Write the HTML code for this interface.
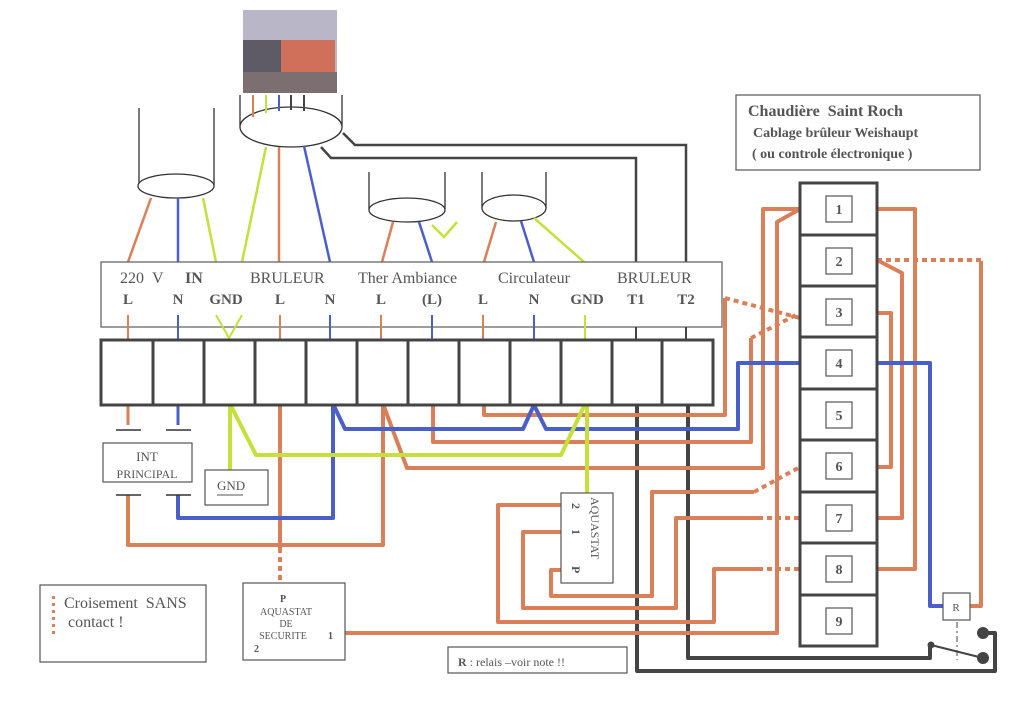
<!DOCTYPE html>
<html><head><meta charset="utf-8"><style>
html,body{margin:0;padding:0;background:#fff;}
svg{display:block;}
text{font-family:"Liberation Serif",serif;fill:#555;}
</style></head><body>
<svg width="1024" height="702" viewBox="0 0 1024 702" xmlns="http://www.w3.org/2000/svg">
<!-- photo connector -->
<rect x="243" y="10" width="94" height="83" fill="#b9b6c8"/>
<rect x="243" y="40" width="38" height="32" fill="#5e5a66"/>
<rect x="281" y="40" width="54" height="32" fill="#d0705a"/>
<rect x="243" y="72" width="94" height="21" fill="#7b6f72"/>
<!-- cables -->
<g fill="none" stroke="#333" stroke-width="1.3">
<line x1="139" y1="108" x2="139" y2="186"/><line x1="214" y1="108" x2="214" y2="186"/>
<ellipse cx="176" cy="186" rx="38" ry="12" fill="#fff"/>
<line x1="240" y1="95" x2="240" y2="127"/><line x1="342" y1="95" x2="342" y2="127"/>
<ellipse cx="291" cy="127" rx="51" ry="20" fill="#fff"/>
<line x1="369" y1="172" x2="369" y2="210"/><line x1="445" y1="172" x2="445" y2="210"/>
<ellipse cx="407" cy="210" rx="38" ry="12" fill="#fff"/>
<line x1="482" y1="172" x2="482" y2="208"/><line x1="546" y1="172" x2="546" y2="208"/>
<ellipse cx="514" cy="208" rx="32" ry="13" fill="#fff"/>
</g>
<!-- burner inner wires -->
<g stroke-width="2">
<line x1="253" y1="95" x2="253" y2="117" stroke="#d9805a"/>
<line x1="266" y1="95" x2="266" y2="113" stroke="#c5e03a"/>
<line x1="279" y1="95" x2="279" y2="111" stroke="#4a5fc8"/>
<line x1="291" y1="95" x2="291" y2="110" stroke="#444"/>
<line x1="304" y1="95" x2="304" y2="111" stroke="#444"/>
</g>
<!-- top wires -->
<g fill="none" stroke-width="2.5">
<path d="M151 198 L128 262" stroke="#d9805a"/>
<path d="M178 198 L178 262" stroke="#4a5fc8"/>
<path d="M203 198 L216 262" stroke="#c5e03a"/>
<path d="M266 147 L242 262" stroke="#c5e03a"/>
<path d="M279 147 L279 262" stroke="#d9805a"/>
<path d="M304 146 L330 262" stroke="#4a5fc8"/>
<path d="M393 222 L382 262" stroke="#d9805a"/>
<path d="M419 222 L432 262" stroke="#4a5fc8"/>
<path d="M432 225 L444 237 L457 222" stroke="#c5e03a"/>
<path d="M496 222 L484 262" stroke="#d9805a"/>
<path d="M521 221 L534 262" stroke="#4a5fc8"/>
<path d="M534 218 L584 262" stroke="#c5e03a"/>
<path d="M343 133 L355 145 L686 145 L686 262" stroke="#444"/>
<path d="M321 147 L331 158 L636 158 L636 262" stroke="#444"/>
</g>
<!-- label panel -->
<rect x="101" y="262" width="621" height="65" fill="#fff" stroke="#666" stroke-width="1.3"/>
<g font-size="16">
<text x="120" y="283">220&#160;&#160;V</text>
<text x="185" y="283" font-weight="bold">IN</text>
<text x="250" y="283">BRULEUR</text>
<text x="358" y="283">Ther Ambiance</text>
<text x="498" y="283">Circulateur</text>
<text x="617" y="283">BRULEUR</text>
</g>
<g font-size="15" font-weight="bold" text-anchor="middle">
<text x="128" y="304">L</text><text x="178" y="304">N</text><text x="226" y="304">GND</text>
<text x="280" y="304">L</text><text x="330" y="304">N</text><text x="381" y="304">L</text>
<text x="432" y="304">(L)</text><text x="483" y="304">L</text><text x="534" y="304">N</text>
<text x="587" y="304">GND</text><text x="636" y="304">T1</text><text x="686" y="304">T2</text>
</g>
<g stroke-width="2" fill="none">
<line x1="128" y1="315" x2="128" y2="340" stroke="#d9805a"/>
<line x1="178" y1="315" x2="178" y2="340" stroke="#4a5fc8"/>
<path d="M216 315 L229 338 L242 315" stroke="#c5e03a"/>
<line x1="280" y1="315" x2="280" y2="340" stroke="#d9805a"/>
<line x1="330" y1="315" x2="330" y2="340" stroke="#4a5fc8"/>
<line x1="381" y1="315" x2="381" y2="340" stroke="#d9805a"/>
<line x1="432" y1="315" x2="432" y2="340" stroke="#4a5fc8"/>
<line x1="483" y1="315" x2="483" y2="340" stroke="#d9805a"/>
<line x1="534" y1="315" x2="534" y2="340" stroke="#4a5fc8"/>
<line x1="585" y1="315" x2="585" y2="340" stroke="#c5e03a"/>
<line x1="636" y1="327" x2="636" y2="340" stroke="#444"/>
<line x1="686" y1="327" x2="686" y2="340" stroke="#444"/>
</g>
<!-- bottom wires -->
<g fill="none" stroke-width="4" stroke-linejoin="round">
<!-- dark to relay -->
<path d="M637 404 L637 671 L995 671 L995 633 L983 633" stroke="#444"/>
<path d="M688 404 L688 658 L930 658 L930 645" stroke="#444"/>
<!-- orange -->
<path d="M128 404 L128 425" stroke="#d9805a" stroke-width="3"/>
<path d="M128 495 L128 545 L383 545 L383 404" stroke="#d9805a"/>
<path d="M383 404 L407 468 L763 468 L763 209 L800 209" stroke="#d9805a"/>
<path d="M433 404 L433 442 L751 442 L751 338" stroke="#d9805a"/>
<path d="M484 404 L484 415 L725 415 L725 298" stroke="#d9805a"/>
<path d="M345 633 L777 633 L777 222 L800 209" stroke="#d9805a"/>
<path d="M280 404 L280 548" stroke="#d9805a"/>
<path d="M754 492 L652 492 L652 596 L551 596 L551 570 L562 570" stroke="#d9805a"/>
<path d="M758 518 L676 518 L676 608 L523 608 L523 532 L562 532" stroke="#d9805a"/>
<path d="M758 569 L714 569 L714 622 L498 622 L498 505 L562 505" stroke="#d9805a"/>
<path d="M877 209 L915 209 L915 569 L877 569" stroke="#d9805a"/>
<path d="M877 260 L902 273 L902 518 L877 518" stroke="#d9805a"/>
<path d="M877 313 L891 313 L891 467 L877 467" stroke="#d9805a"/>
<path d="M981 261 L981 606 L970 606" stroke="#d9805a"/>
<!-- dotted -->
<g stroke-dasharray="5 4" stroke="#d9805a">
<path d="M280 548 L280 583"/>
<path d="M725 298 L800 318"/>
<path d="M751 338 L800 313"/>
<path d="M754 492 L800 467"/>
<path d="M758 518 L800 518"/>
<path d="M758 569 L800 569"/>
<path d="M877 260 L981 260"/>
</g>
<!-- blue -->
<path d="M178 404 L178 425" stroke="#4a5fc8" stroke-width="3"/>
<path d="M178 495 L178 518 L333 518 L333 404 L345 429 L523 429 L534 405 L546 429 L738 429 L738 363 L800 363" stroke="#4a5fc8"/>
<path d="M877 363 L930 363 L930 606 L943 606" stroke="#4a5fc8"/>
<!-- green -->
<path d="M230 404 L230 470" stroke="#c5e03a"/>
<path d="M230 404 L256 455 L561 455 L585 404 L587 404 L587 493" stroke="#c5e03a"/>
</g>
<!-- INT tees -->
<g stroke="#333" stroke-width="1.5">
<line x1="116" y1="430" x2="141" y2="430"/><line x1="166" y1="430" x2="191" y2="430"/>
<line x1="116" y1="495" x2="141" y2="495"/><line x1="166" y1="495" x2="191" y2="495"/>
</g>
<!-- terminal block -->
<g fill="#fff" stroke="#444" stroke-width="3">
<rect x="101" y="340" width="612" height="65"/>
</g>
<g stroke="#444" stroke-width="3">
<line x1="153" y1="340" x2="153" y2="405"/><line x1="204" y1="340" x2="204" y2="405"/>
<line x1="255" y1="340" x2="255" y2="405"/><line x1="306" y1="340" x2="306" y2="405"/>
<line x1="357" y1="340" x2="357" y2="405"/><line x1="408" y1="340" x2="408" y2="405"/>
<line x1="459" y1="340" x2="459" y2="405"/><line x1="510" y1="340" x2="510" y2="405"/>
<line x1="561" y1="340" x2="561" y2="405"/><line x1="612" y1="340" x2="612" y2="405"/>
<line x1="662" y1="340" x2="662" y2="405"/>
</g>
<!-- boxes -->
<g fill="#fff" stroke="#555" stroke-width="1.2">
<rect x="103" y="443" width="89" height="39"/>
<rect x="205" y="470" width="63" height="35"/>
<rect x="40" y="585" width="166" height="77"/>
<rect x="243" y="583" width="102" height="77"/>
<rect x="448" y="647" width="179" height="26"/>
<rect x="561" y="493" width="52" height="90"/>
<rect x="736" y="95" width="244" height="75"/>
<rect x="943" y="593" width="27" height="27"/>
</g>
<text x="147" y="461" font-size="13" text-anchor="middle">INT</text>
<text x="147" y="478" font-size="12" text-anchor="middle">PRINCIPAL</text>
<text x="217" y="490" font-size="13">GND</text>
<line x1="217" y1="495" x2="243" y2="495" stroke="#555" stroke-width="1"/>
<g fill="#d9805a"><rect x="52" y="596" width="3" height="3"/><rect x="52" y="603" width="3" height="3"/><rect x="52" y="610" width="3" height="3"/><rect x="52" y="617" width="3" height="3"/><rect x="52" y="624" width="3" height="3"/><rect x="52" y="631" width="3" height="3"/></g>
<text x="64" y="608" font-size="16">Croisement&#160; SANS</text>
<text x="68" y="627" font-size="16">contact !</text>
<text x="283" y="602" font-size="10" font-weight="bold" text-anchor="middle">P</text>
<text x="286" y="615" font-size="10" text-anchor="middle">AQUASTAT</text>
<text x="286" y="627" font-size="10" text-anchor="middle">DE</text>
<text x="283" y="639" font-size="10" text-anchor="middle">SECURITE</text>
<text x="328" y="639" font-size="10" font-weight="bold">1</text>
<text x="254" y="652" font-size="10" font-weight="bold">2</text>
<text x="458" y="666" font-size="12"><tspan font-weight="bold">R</tspan> : relais –voir note !!</text>
<text x="956" y="611" font-size="11" text-anchor="middle">R</text>
<g transform="translate(591,497) rotate(90)">
<text x="0" y="0" font-size="12">AQUASTAT</text>
</g>
<g font-size="12" font-weight="bold">
<text transform="translate(572,503) rotate(90)">2</text>
<text transform="translate(572,529) rotate(90)">1</text>
<text transform="translate(572,566) rotate(90)">P</text>
</g>
<text x="748" y="116" font-size="16" font-weight="bold">Chaudière&#160; Saint Roch</text>
<text x="753" y="137" font-size="14" font-weight="bold">Cablage brûleur Weishaupt</text>
<text x="752" y="158" font-size="14" font-weight="bold">( ou controle électronique )</text>
<!-- right strip -->
<rect x="800" y="183" width="77" height="463" fill="none" stroke="#444" stroke-width="3"/>
<g stroke="#444" stroke-width="3">
<line x1="800" y1="235" x2="877" y2="235"/><line x1="800" y1="286" x2="877" y2="286"/>
<line x1="800" y1="337" x2="877" y2="337"/><line x1="800" y1="389" x2="877" y2="389"/>
<line x1="800" y1="440" x2="877" y2="440"/><line x1="800" y1="492" x2="877" y2="492"/>
<line x1="800" y1="543" x2="877" y2="543"/><line x1="800" y1="595" x2="877" y2="595"/>
</g>
<g fill="#fff" stroke="#555" stroke-width="1.2">
<rect x="826" y="196" width="26" height="26"/><rect x="826" y="248" width="26" height="26"/>
<rect x="826" y="299" width="26" height="26"/><rect x="826" y="350" width="26" height="26"/>
<rect x="826" y="402" width="26" height="26"/><rect x="826" y="453" width="26" height="26"/>
<rect x="826" y="505" width="26" height="26"/><rect x="826" y="556" width="26" height="26"/>
<rect x="826" y="608" width="26" height="26"/>
</g>
<g font-size="14" font-weight="bold" text-anchor="middle">
<text x="839" y="214">1</text><text x="839" y="266">2</text><text x="839" y="317">3</text>
<text x="839" y="368">4</text><text x="839" y="420">5</text><text x="839" y="471">6</text>
<text x="839" y="523">7</text><text x="839" y="574">8</text><text x="839" y="626">9</text>
</g>
<!-- relay switch -->
<line x1="957" y1="622" x2="957" y2="660" stroke="#444" stroke-width="1" stroke-dasharray="6 3 2 3"/>
<line x1="931" y1="645" x2="983" y2="658" stroke="#444" stroke-width="2"/>
<circle cx="931" cy="645" r="3.5" fill="#444"/>
<circle cx="983" cy="658" r="6" fill="#444"/>
<circle cx="983" cy="633" r="6" fill="#444"/>
</svg>
</body></html>
